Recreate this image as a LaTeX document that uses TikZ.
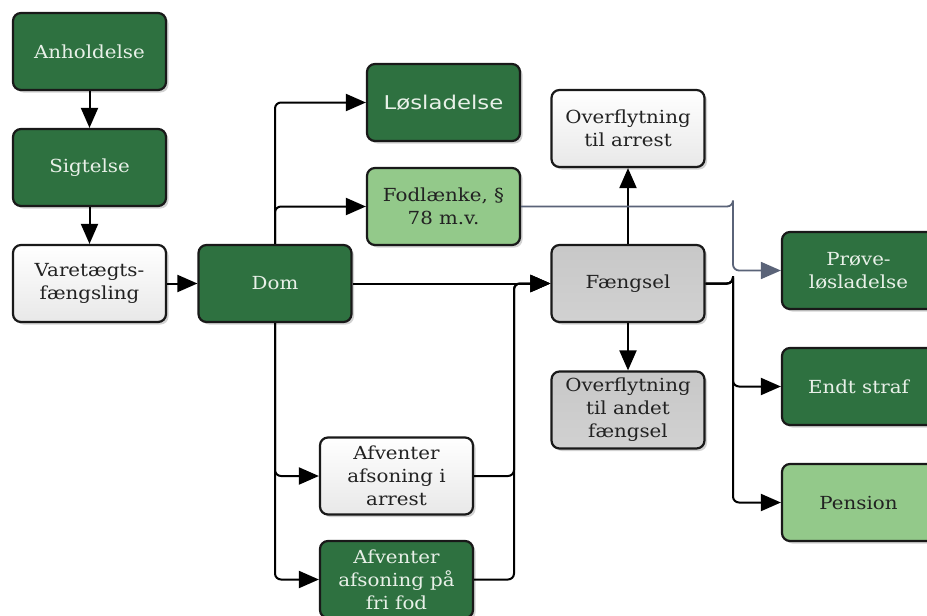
\documentclass[tikz,border=0pt]{standalone}
\usepackage{fontspec}
\setmainfont{DejaVu Serif}[FakeStretch=1.1]
\newfontfamily\sansf{DejaVu Sans}[FakeStretch=1.2]
\usetikzlibrary{arrows.meta,shadows}
\definecolor{dkg}{HTML}{2E7140}
\definecolor{ltg}{HTML}{93C98A}
\definecolor{gry}{HTML}{BEBEBE}
\definecolor{txw}{HTML}{E8F0E8}
\definecolor{txd}{HTML}{222222}
\definecolor{slate}{HTML}{5A6378}
\tikzset{
  box/.style={draw=black!90, line width=2.2pt, rounded corners=8pt,
    minimum width=153pt, minimum height=77pt, align=center, inner sep=2pt,
    font=\fontsize{18}{23}\selectfont,
    drop shadow={shadow xshift=2.5pt, shadow yshift=-2.5pt, opacity=0.35}},
  dk/.style={box, fill=dkg, text=txw},
  lt/.style={box, fill=ltg, text=txd},
  gr/.style={box, top color=gry!85, bottom color=gry!110!black, text=txd},
  wh/.style={box, top color=white, bottom color=black!9, text=txd},
  conn/.style={line width=2pt, draw=black, rounded corners=6pt},
  arrw/.style={conn, -{Triangle[length=20pt,width=17pt]}},
}
\begin{document}
\begin{tikzpicture}[x=1pt,y=-1pt]
\clip (0,0) rectangle (927,616);
\fill[white] (0,0) rectangle (927,616);
% nodes
\node[dk] (anh) at (89.5,51.5) {Anholdelse};
\node[dk] (sig) at (89.5,167.5) {Sigtelse};
\node[wh] (var) at (89.5,283.5) {Varetægts-\\fængsling};
\node[dk] (dom) at (275,283.5) {Dom};
\node[dk, font=\sansf\fontsize{19}{23}\selectfont] (los) at (443.5,102.5) {Løsladelse};
\node[lt] (fod) at (443.5,206.5) {Fodlænke, §\\78 m.v.};
\node[wh] (ova) at (628,128.5) {Overflytning\\til arrest};
\node[gr] (fae) at (628,283.5) {Fængsel};
\node[gr] (ovb) at (628,410) {Overflytning\\til andet\\fængsel};
\node[wh] (afa) at (396.5,476) {Afventer\\afsoning i\\arrest};
\node[dk] (aff) at (396.5,579.5) {Afventer\\afsoning på\\fri fod};
\node[dk] (pro) at (858.5,270.5) {Prøve-\\løsladelse};
\node[dk] (end) at (858.5,386.5) {Endt straf};
\node[lt] (pen) at (858.5,502.5) {Pension};
% junction coordinates
\coordinate (jA) at (514,283.5);
\coordinate (jB) at (733,283.5);
\coordinate (jC) at (733,206.5);
\coordinate (jD) at (733,276);
% connectors
\draw[arrw] (anh) -- (sig);
\draw[arrw] (sig) -- (var);
\draw[arrw] (var) -- (dom);
\draw[arrw] (dom.north) |- (los.west);
\draw[arrw] (dom.north) |- (fod.west);
\draw[arrw] (dom.east) -- (fae.west);
\draw[arrw] (dom.south) |- (afa.west);
\draw[arrw] (dom.south) |- (aff.west);
\draw[arrw] (afa.east) -| (jA) -- (fae.west);
\draw[arrw] (aff.east) -| (jA) -- (fae.west);
\draw[arrw] (fae.north) -- (ova.south);
\draw[arrw] (fae.south) -- (ovb.north);
\draw[arrw] (fae.east) -| (jB) |- (end.west);
\draw[arrw] (fae.east) -| (jB) |- (pen.west);
\draw[conn] (fae.east) -| (jD);
\draw[arrw, draw=slate, color=slate, line width=1.8pt] (fod.east) -| (jC) |- (pro.west);
\end{tikzpicture}
\end{document}
